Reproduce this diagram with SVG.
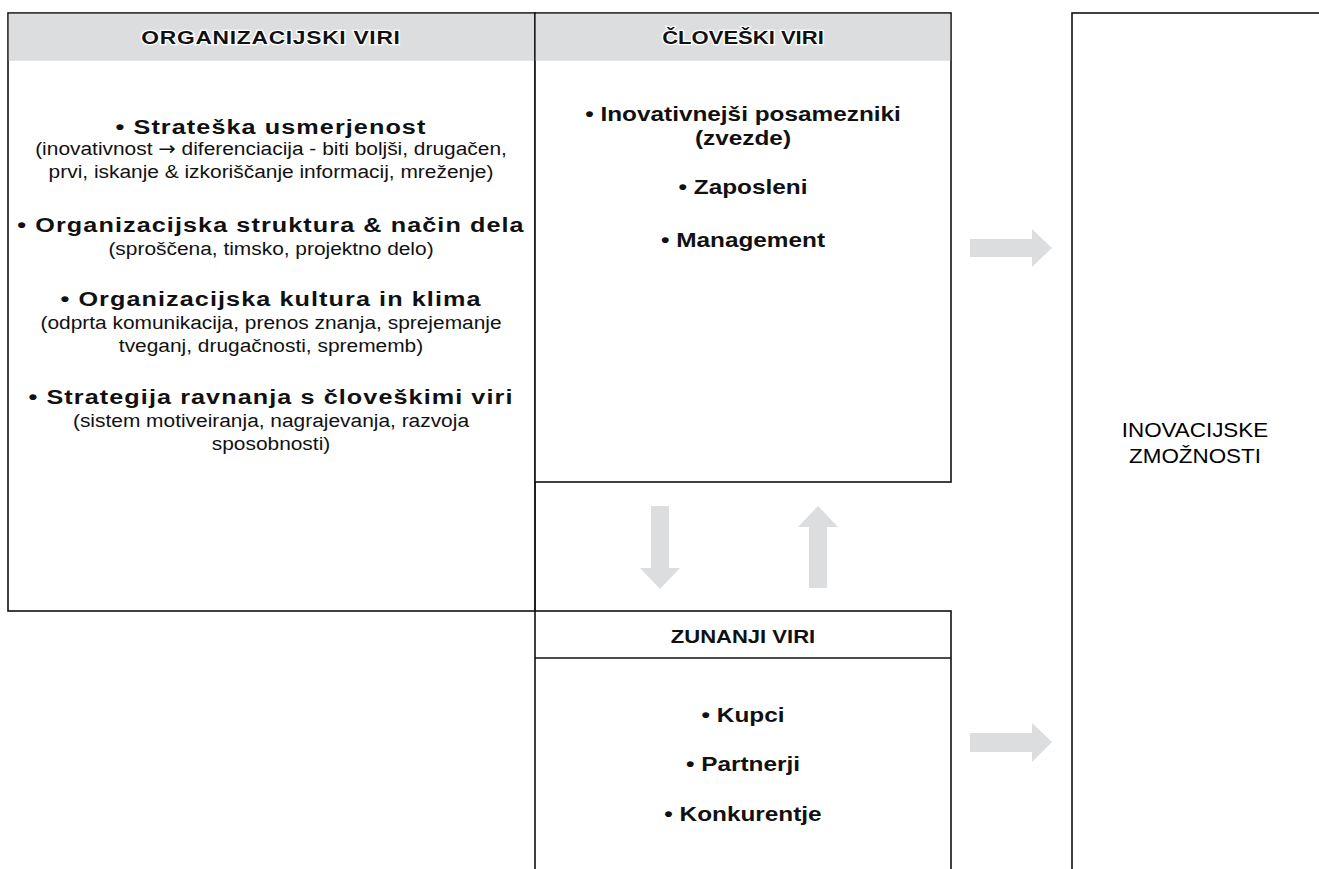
<svg xmlns="http://www.w3.org/2000/svg" width="1319" height="869" viewBox="0 0 1319 869">
<style>
.box{fill:#ffffff;stroke:#111111;stroke-width:1.6}
.band{fill:#dcdddf}
.sep{stroke:#111111;stroke-width:1.4}
.hd{font-family:"Liberation Sans",Arial,sans-serif;font-weight:bold;font-size:19px;letter-spacing:0.6px;fill:#111;text-anchor:middle;stroke:#ffffff;stroke-width:2.5;paint-order:stroke}
.hd2{font-family:"Liberation Sans",Arial,sans-serif;font-weight:bold;font-size:19px;fill:#111;text-anchor:middle;stroke:#ffffff;stroke-width:2.5;paint-order:stroke}
.b{font-family:"Liberation Sans",Arial,sans-serif;font-weight:bold;font-size:21px;letter-spacing:0.9px;fill:#111;text-anchor:middle}
.b2{font-family:"Liberation Sans",Arial,sans-serif;font-weight:bold;font-size:21px;fill:#111;text-anchor:middle}
.r{font-family:"Liberation Sans",Arial,sans-serif;font-size:19px;fill:#111;text-anchor:middle}
.ar{font-family:"DejaVu Sans",sans-serif}
.big{font-family:"Liberation Sans",Arial,sans-serif;font-size:20px;fill:#000;text-anchor:middle}
.arr{fill:#dcdddf}
</style>
<rect width="1319" height="869" fill="#ffffff"/>
<g id="organizacijski">
<rect class="box" x="8" y="13" width="527" height="598"/>
<rect class="band" x="8.8" y="13.8" width="525.4" height="47"/>
<g transform="translate(271,0) scale(1.2,1) translate(-271,0)">
<text class="hd" x="271" y="44">ORGANIZACIJSKI VIRI</text>
<text class="b" x="271" y="134">• Strateška usmerjenost</text>
</g>
<g transform="translate(271,0) scale(1.1,1) translate(-271,0)">
<text class="r" x="271" y="155">(inovativnost <tspan class="ar">→</tspan> diferenciacija - biti boljši, drugačen,</text>
<text class="r" x="271" y="178">prvi, iskanje &amp; izkoriščanje informacij, mreženje)</text>
</g>
<g transform="translate(271,0) scale(1.2,1) translate(-271,0)">
<text class="b" x="271" y="232">• Organizacijska struktura &amp; način dela</text>
</g>
<g transform="translate(271,0) scale(1.1,1) translate(-271,0)">
<text class="r" x="271" y="255">(sproščena, timsko, projektno delo)</text>
</g>
<g transform="translate(271,0) scale(1.2,1) translate(-271,0)">
<text class="b" x="271" y="306">• Organizacijska kultura in klima</text>
</g>
<g transform="translate(271,0) scale(1.1,1) translate(-271,0)">
<text class="r" x="271" y="329">(odprta komunikacija, prenos znanja, sprejemanje</text>
<text class="r" x="271" y="352">tveganj, drugačnosti, sprememb)</text>
</g>
<g transform="translate(271,0) scale(1.2,1) translate(-271,0)">
<text class="b" x="271" y="404">• Strategija ravnanja s človeškimi viri</text>
</g>
<g transform="translate(271,0) scale(1.1,1) translate(-271,0)">
<text class="r" x="271" y="427">(sistem motiveiranja, nagrajevanja, razvoja</text>
<text class="r" x="271" y="450">sposobnosti)</text>
</g>
</g>
<g id="cloveski">
<rect class="box" x="535" y="13" width="416" height="469"/>
<rect class="band" x="535.8" y="13.8" width="414.4" height="47"/>
<g transform="translate(743,0) scale(1.16,1) translate(-743,0)">
<text class="hd2" x="743" y="44">ČLOVEŠKI VIRI</text>
<text class="b2" x="743" y="121">• Inovativnejši posamezniki</text>
<text class="b2" x="743" y="145">(zvezde)</text>
<text class="b2" x="743" y="194">• Zaposleni</text>
<text class="b2" x="743" y="247">• Management</text>
</g>
</g>
<g id="zunanji">
<rect class="box" x="535" y="611" width="416" height="270"/>
<line class="sep" x1="535" y1="658" x2="951" y2="658"/>
<g transform="translate(743,0) scale(1.16,1) translate(-743,0)">
<text class="hd2" x="743" y="643">ZUNANJI VIRI</text>
<text class="b2" x="743" y="722">• Kupci</text>
<text class="b2" x="743" y="771">• Partnerji</text>
<text class="b2" x="743" y="821">• Konkurentje</text>
</g>
</g>
<g id="inovacijske">
<rect class="box" x="1072" y="13" width="260" height="870"/>
<g transform="translate(1195,0) scale(1.12,1) translate(-1195,0)">
<text class="big" x="1195" y="437">INOVACIJSKE</text>
<text class="big" x="1195" y="463">ZMOŽNOSTI</text>
</g>
</g>
<g id="connectors">
<line class="sep" x1="535" y1="482" x2="535" y2="611"/>
<polygon class="arr" points="970,239 1032,239 1032,229 1052,248 1032,267 1032,257 970,257"/>
<polygon class="arr" points="970,733 1032,733 1032,723 1052,742 1032,762 1032,752 970,752"/>
<polygon class="arr" points="651,506 669,506 669,568 680,568 660,589 640,568 651,568"/>
<polygon class="arr" points="809,588 827,588 827,527 838,527 818,506 798,527 809,527"/>
</g>
</svg>
